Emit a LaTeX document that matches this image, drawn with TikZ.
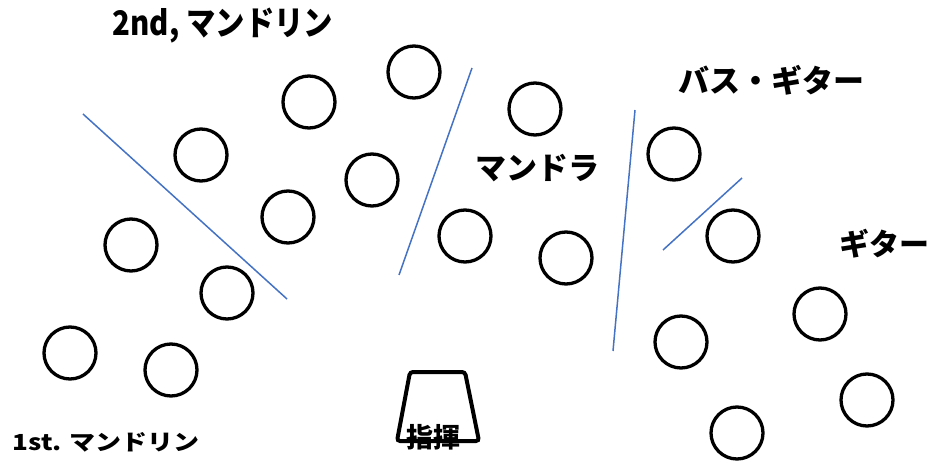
\documentclass[tikz,border=0pt]{standalone}
\usepackage{fontspec}
\newfontfamily\jpfont{Noto Sans CJK JP}
\usepackage{tikz}
\usetikzlibrary{positioning}

\begin{document}
\begin{tikzpicture}[
    x=1pt, y=-1pt,
    seat_style/.style={draw=black, circle, line width=3.3pt, minimum size=52pt, inner sep=0pt},
    part_line/.style={draw={rgb,255:red,68;green,114;blue,196}, line width=1.5pt},
    label_style/.style={font=\jpfont\bfseries\fontsize{30}{30}\selectfont, inner sep=0pt, anchor=center}
]
\useasboundingbox (0,0) rectangle (934,462);

% 1st mandolin
\node[seat_style] (S1) at (70,353) {};
\node[seat_style] (S2) at (171,370) {};
\node[seat_style] (S3) at (131,245) {};
\node[seat_style] (S4) at (227,293) {};

% 2nd mandolin
\node[seat_style] (S5) at (201,155) {};
\node[seat_style] (S6) at (288,217) {};
\node[seat_style] (S7) at (309,102) {};
\node[seat_style] (S8) at (372,180) {};
\node[seat_style] (S9) at (414,72) {};

% Mandola
\node[seat_style] (S10) at (465,236) {};
\node[seat_style] (S11) at (535,109) {};
\node[seat_style] (S12) at (566,258) {};

% Bass / guitar
\node[seat_style] (S13) at (674,154) {};
\node[seat_style] (S14) at (733,236) {};

% Guitar
\node[seat_style] (S15) at (681,342) {};
\node[seat_style] (S16) at (820,314) {};
\node[seat_style] (S17) at (867,400) {};
\node[seat_style] (S18) at (737,433) {};

% Part lines
\draw[part_line] (83,114) -- (287,299);
\draw[part_line] (472,68) -- (399,275);
\draw[part_line] (635,110) -- (613,351);
\draw[part_line] (742,178) -- (663,250);

% Conductor
\draw[line width=4pt, rounded corners=3pt] (410,372) -- (465,372) -- (479,441) -- (397,441) -- cycle;
\node[label_style, font=\jpfont\bfseries\fontsize{27}{27}\selectfont] (C) at (433,437) {指揮};

% Labels
\node[label_style, font=\jpfont\bfseries\fontsize{26}{26}\selectfont] (L2nd) at (223,26) {\scalebox{1.13}[1.3]{2nd, マンドリン}};
\node[label_style, font=\jpfont\bfseries\fontsize{26}{26}\selectfont] (L1st) at (106,442) {\scalebox{1}[0.85]{1st. マンドリン}};
\node[label_style, font=\jpfont\bfseries\fontsize{31}{31}\selectfont] (LBass) at (771,80) {バス・ギター};
\node[label_style, font=\jpfont\bfseries\fontsize{31}{31}\selectfont] (LMdla) at (537,168) {マンドラ};
\node[label_style] (LGtr) at (884,244) {ギター};

\end{tikzpicture}
\end{document}
